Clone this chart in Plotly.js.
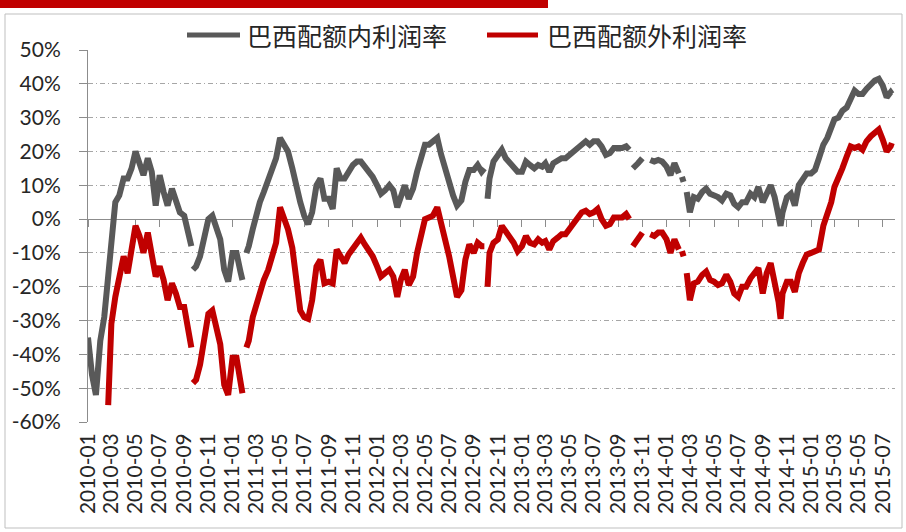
<!DOCTYPE html>
<html>
<head>
<meta charset="utf-8">
<script src="https://cdn.plot.ly/plotly-3.0.1.min.js"></script>
<style>html,body{margin:0;padding:0;background:#fff;}#chart{width:906px;height:532px;}</style>
</head>
<body>
<div id="chart"></div>
<script>
const seriesNames = ["巴西配额内利润率", "巴西配额外利润率"];
const dates = [
"2010-01-01","2010-01-11","2010-01-21",
"2010-02-01","2010-02-11","2010-02-21",
"2010-03-01","2010-03-11","2010-03-21",
"2010-04-01","2010-04-11","2010-04-21",
"2010-05-01","2010-05-11","2010-05-21",
"2010-06-01","2010-06-11","2010-06-21",
"2010-07-01","2010-07-11","2010-07-21",
"2010-08-01","2010-08-11","2010-08-21",
"2010-09-01","2010-09-11","2010-09-19","2010-09-21","2010-09-23",
"2010-10-01","2010-10-11","2010-10-21",
"2010-11-01","2010-11-11","2010-11-21",
"2010-12-01","2010-12-11","2010-12-21",
"2011-01-01","2011-01-11","2011-01-21","2011-01-26",
"2011-02-01","2011-02-05","2011-02-11","2011-02-21",
"2011-03-01","2011-03-11","2011-03-21",
"2011-04-01","2011-04-11","2011-04-21",
"2011-05-01","2011-05-11","2011-05-21",
"2011-06-01","2011-06-11","2011-06-21",
"2011-07-01","2011-07-11","2011-07-21",
"2011-08-01","2011-08-11","2011-08-21",
"2011-09-01","2011-09-11","2011-09-21",
"2011-10-01","2011-10-11","2011-10-21",
"2011-11-01","2011-11-11","2011-11-21",
"2011-12-01","2011-12-11","2011-12-21",
"2012-01-01","2012-01-11","2012-01-21",
"2012-02-01","2012-02-11","2012-02-21",
"2012-03-01","2012-03-11","2012-03-21",
"2012-04-01","2012-04-11","2012-04-21",
"2012-05-01","2012-05-11","2012-05-21",
"2012-06-01","2012-06-11","2012-06-21",
"2012-07-01","2012-07-11","2012-07-21",
"2012-08-01","2012-08-11","2012-08-21",
"2012-09-01","2012-09-11","2012-09-21","2012-09-28",
"2012-10-01","2012-10-06","2012-10-11","2012-10-21",
"2012-11-01","2012-11-11","2012-11-21",
"2012-12-01","2012-12-11","2012-12-21",
"2013-01-01","2013-01-11","2013-01-21",
"2013-02-01","2013-02-11","2013-02-21",
"2013-03-01","2013-03-11","2013-03-21",
"2013-04-01","2013-04-11","2013-04-21",
"2013-05-01","2013-05-11","2013-05-21",
"2013-06-01","2013-06-11","2013-06-21",
"2013-07-01","2013-07-11","2013-07-21",
"2013-08-01","2013-08-11","2013-08-21",
"2013-09-01","2013-09-11","2013-09-21","2013-09-29",
"2013-10-01","2013-10-08","2013-10-11","2013-10-21",
"2013-11-01","2013-11-11","2013-11-21",
"2013-12-01","2013-12-11","2013-12-21",
"2014-01-01","2014-01-11","2014-01-21",
"2014-02-01","2014-02-05","2014-02-09","2014-02-13","2014-02-16","2014-02-21",
"2014-03-01","2014-03-11","2014-03-21",
"2014-04-01","2014-04-11","2014-04-21",
"2014-05-01","2014-05-11","2014-05-21",
"2014-06-01","2014-06-11","2014-06-21",
"2014-07-01","2014-07-11","2014-07-21",
"2014-08-01","2014-08-11","2014-08-21",
"2014-09-01","2014-09-11","2014-09-21",
"2014-10-01","2014-10-11","2014-10-16","2014-10-21",
"2014-11-01","2014-11-11","2014-11-21",
"2014-12-01","2014-12-11","2014-12-21",
"2015-01-01","2015-01-11","2015-01-21",
"2015-02-01","2015-02-11","2015-02-21",
"2015-03-01","2015-03-11","2015-03-21",
"2015-04-01","2015-04-11","2015-04-21",
"2015-05-01","2015-05-11","2015-05-21",
"2015-06-01","2015-06-11","2015-06-21",
"2015-07-01","2015-07-11","2015-07-21","2015-07-24"
];
const quotaIn = [
-35,-46,-52,
-36,-29,-17,
-3,5,7,
12,12,15,
20,17,13,
18,14,4,
13,8,4,
9,5,2,
1,-5,-8,null,-15,
-14,-11,-6,
0,1,-3,
-6,-15,-18.5,
-10,-10,-15.5,-18,
null,-10,-8,-3,
1,5,8,
12,15,18,
24,22,20,
15,9,5,
1,-1.5,2,
10,12,6,
6,3,15,
12,12,14,
16,17,17,
15.5,14,12.5,
10,7.5,8.5,
10,8.5,3.5,
6.5,10,6,
9,14,18.5,
22,22,23,
24,19,14.5,
11,7,4,
5.5,11,14.5,
14.5,16,14,15,
null,6,12,17,
18.5,20.5,18,
16.5,15.5,14,
14,17,16,
15,16,15.5,
16.5,14,16.5,
17.5,18,18,
19,20,21,
22,23,22,
23,23,21.5,
19,19.5,21,
21,21,21.5,20.5,
null,15,15.5,16.5,
18,null,17.5,
17,17.5,17,
15.5,13,16.5,
13.5,null,12.5,11,null,8,
2,6.5,6,
8,9,7.5,
7,6.5,5.5,
7.5,7,4.5,
3.5,5,5,
7.5,6.5,9.5,
5,8,10,
6.5,1.5,-2,2,
6.5,7.5,4,
10,11.5,13.5,
13.5,14.5,18,
22,24,27,
29.5,30,32,
33,35.5,38,
37,37,38.5,
40,41,41.5,
39.5,36,37.5,37
];
const quotaOut = [
null,null,null,
null,null,-55,
-31,-23,-18,
-11,-16,-9,
-2,-5,-10,
-4,-10,-17,
-14,-18,-24,
-19,-22,-26,
-26,-34,-38,null,-48.5,
-47.5,-43,-36,
-28,-27,-32,
-37,-49,-52,
-41,-41,-48,-51.5,
null,-38,-36,-29,
-26,-21,-18,
-15,-10.5,-7,
3.5,0,-3,
-8.5,-17,-27,
-29,-29.5,-24,
-14,-12,-19,
-18.5,-19,-9,
-11.5,-13,-10.5,
-8.5,-6.5,-5.5,
-7.5,-9,-11,
-14,-17,-16,
-15,-17,-23,
-18,-15,-19.5,
-17,-10,-5.5,
0,0.5,1,
3.5,-1,-7,
-11,-17,-23,
-21,-12,-7.5,
-10,-7,-8,-8,
null,-20,-10,-7,
-6,-2,-3.5,
-5.5,-7,-9.5,
-8,-5,-7,
-7.5,-6,-7,
-6.5,-9,-6.5,
-5.5,-4.5,-4.5,
-3,-1.5,0.5,
2,2.5,1.5,
2,3,0,
-2,-1.5,0.5,
0.5,0.5,1.5,0,
null,-8,-7.5,-6,
-4,null,-4.5,
-5,-4,-4,
-6,-10,-6,
-9,null,-9.5,-11,null,-16,
-24,-19,-18.5,
-16.5,-15.5,-18,
-18.5,-19.5,-19,
-16.5,-18.5,-22,
-23,-20,-20,
-17.5,-16,-14.5,
-22,-16,-13,
-18.5,-24.5,-29.5,-22,
-18.5,-18.5,-21.5,
-16,-13,-10.5,
-10,-9.5,-9,
-2,1.5,5,
9.5,12,15,
18.5,21.5,21,
21.5,20.5,23,
24.5,25.5,26.5,
23.5,20,21.5,22.5
];
const tickLabels = ["2010-01","2010-03","2010-05","2010-07","2010-09","2010-11",
"2011-01","2011-03","2011-05","2011-07","2011-09","2011-11",
"2012-01","2012-03","2012-05","2012-07","2012-09","2012-11",
"2013-01","2013-03","2013-05","2013-07","2013-09","2013-11",
"2014-01","2014-03","2014-05","2014-07","2014-09","2014-11",
"2015-01","2015-03","2015-05","2015-07"];
const yTicks = [-60,-50,-40,-30,-20,-10,0,10,20,30,40,50];
const colors = ["#595959", "#C00000"];

const W = 906, H = 532, ML = 88, MR = 11, MT = 50, MB = 110;
const PW = W - ML - MR, PH = H - MT - MB;
const px = v => (v - ML) / PW;
const py = v => (H - MB - v) / PH;

const tickFont = {family: "Lato, 'Open Sans', sans-serif", size: 21, color: "#262626"};
const legFont = {family: "'Noto Sans CJK SC', sans-serif", size: 25, color: "#262626"};

const traces = [
  {x: dates, y: quotaIn, name: seriesNames[0], type: "scatter", mode: "lines",
   line: {color: colors[0], width: 6}, connectgaps: false, xaxis: "x", yaxis: "y"},
  {x: dates, y: quotaOut, name: seriesNames[1], type: "scatter", mode: "lines",
   line: {color: colors[1], width: 6}, connectgaps: false, xaxis: "x2", yaxis: "y"}
];

const layout = {
  width: W, height: H,
  margin: {l: ML, r: MR, t: MT, b: MB, pad: 0},
  paper_bgcolor: "#fff", plot_bgcolor: "#fff",
  showlegend: false,
  xaxis: {
    type: "date", range: ["2010-01-01", "2015-08-01"],
    tickvals: tickLabels, ticktext: tickLabels, tickangle: -90,
    tickfont: tickFont, ticks: "", showline: false, showgrid: false, zeroline: false,
    ticklabelstandoff: 6
  },
  xaxis2: {
    type: "date", overlaying: "x", matches: "x", anchor: "free",
    position: 60 / 110, side: "bottom",
    tickvals: tickLabels, showticklabels: false, ticks: "outside", ticklen: 7,
    tickcolor: "#8c8c8c", tickwidth: 1, showline: true, linecolor: "#8c8c8c", linewidth: 1,
    showgrid: false, zeroline: false, layer: "below traces"
  },
  yaxis: {
    range: [-60, 50], tickvals: yTicks, ticktext: yTicks.map(v => v + "%"),
    tickfont: tickFont, ticks: "outside", ticklen: 8, tickcolor: "#8c8c8c",
    showline: true, linecolor: "#8c8c8c", linewidth: 1,
    showgrid: true, gridcolor: "#a6a6a6", gridwidth: 1, griddash: "5px,3px,1px,3px",
    zeroline: false, ticklabelstandoff: 14
  },
  shapes: [
    {type: "rect", xref: "paper", yref: "paper", x0: px(0), x1: px(548), y0: py(8), y1: py(0),
     fillcolor: "#C00000", line: {width: 0}},
    {type: "rect", xref: "paper", yref: "paper", x0: px(5), x1: px(902), y0: py(528), y1: py(14),
     line: {color: "#bfbfbf", width: 1}, fillcolor: "rgba(0,0,0,0)"},
    {type: "line", xref: "paper", yref: "paper", x0: px(187), x1: px(240), y0: py(35), y1: py(35),
     line: {color: colors[0], width: 5}},
    {type: "line", xref: "paper", yref: "paper", x0: px(487), x1: px(538), y0: py(35), y1: py(35),
     line: {color: colors[1], width: 5}}
  ],
  annotations: [
    {xref: "paper", yref: "paper", x: px(245), y: py(35), xanchor: "left", yanchor: "middle",
     text: seriesNames[0], showarrow: false, font: legFont},
    {xref: "paper", yref: "paper", x: px(545), y: py(35), xanchor: "left", yanchor: "middle",
     text: seriesNames[1], showarrow: false, font: legFont}
  ]
};

Plotly.newPlot("chart", traces, layout, {displayModeBar: false, staticPlot: true});
</script>
</body>
</html>
